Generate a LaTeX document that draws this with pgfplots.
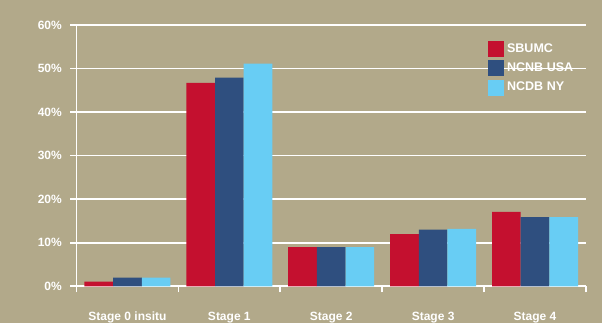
\documentclass[border=0pt]{standalone}
\usepackage{pgfplots}
\pgfplotsset{compat=1.18}
\usetikzlibrary{backgrounds,calc}
\usepackage{fontspec}
\setmainfont{Liberation Sans}
\definecolor{bg}{HTML}{B2A98A}
\definecolor{cred}{HTML}{C4102F}
\definecolor{cnavy}{HTML}{2F4F7F}
\definecolor{cblue}{HTML}{68CDF4}
\begin{document}
\begin{tikzpicture}[x=0.75pt,y=0.75pt]
\begin{axis}[
  scale only axis, width=382.1pt, height=196pt,
  ybar=0pt, bar width=21.5pt,
  xmin=-0.5, xmax=4.5, ymin=0, ymax=60,
  axis x line*=bottom, axis y line*=left,
  axis line style={white, line width=1.3pt, -},
  xtick={-0.5,0.5,1.5,2.5,3.5,4.5},
  x tick label as interval,
  xticklabels={Stage 0 insitu, Stage 1, Stage 2, Stage 3, Stage 4},
  ytick={0,10,...,60},
  yticklabel={\pgfmathprintnumber{\tick}\%},
  tick style={white, line width=1.3pt},
  tick align=outside, major tick length=4.5pt,
  ymajorgrids, xmajorgrids=false, grid style={white, line width=1.3pt},
  /pgf/number format/assume math mode=true,
  tick label style={font=\bfseries\fontsize{9}{11}\selectfont, text=white},
  xticklabel style={yshift=-11pt},
  yticklabel style={xshift=-3pt},
  legend style={at={(0.808,0.939)}, anchor=north west, draw=none, fill=none,
    font=\bfseries\fontsize{9.4}{11}\selectfont, text=white, row sep=2.3pt,
    legend cell align=left, inner sep=0pt},
  legend image code/.code={\fill[#1] (0cm,-6pt) rectangle (12pt,6pt);},
]
\addplot[fill=cred, draw=none] coordinates {(0,1.1) (1,46.7) (2,9) (3,12) (4,17.1)};
\addplot[fill=cnavy, draw=none] coordinates {(0,2) (1,47.9) (2,9) (3,13) (4,15.9)};
\addplot[fill=cblue, draw=none] coordinates {(0,2) (1,51.1) (2,9) (3,13.2) (4,15.9)};
\legend{SBUMC, NCNB USA, NCDB NY}
\coordinate (sw) at (rel axis cs:0,0);
\end{axis}
\begin{pgfonlayer}{background}
\fill[bg] ($(sw)+(-76.5,-36.7)$) rectangle ($(sw)+(525.5,286.3)$);
\end{pgfonlayer}
\pgfresetboundingbox
\useasboundingbox ($(sw)+(-76.5,-36.7)$) rectangle ($(sw)+(525.5,286.3)$);
\end{tikzpicture}
\end{document}
